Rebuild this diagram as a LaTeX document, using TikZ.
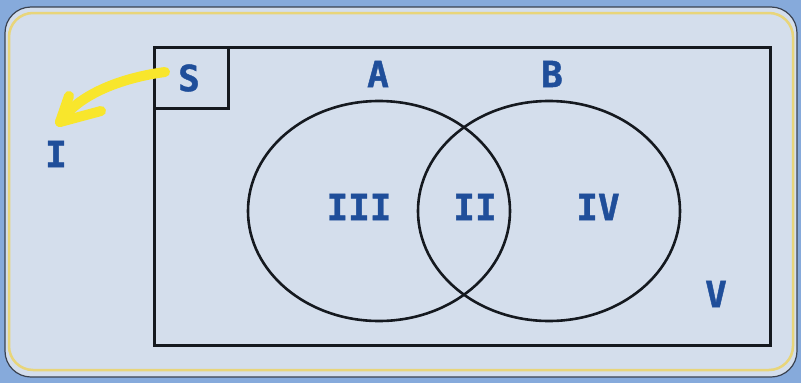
\documentclass[tikz,border=0pt]{standalone}
\usepackage{fontspec}
\newfontfamily\lblfont{DejaVu Sans Mono}[BoldFeatures={FakeBold=1.2}]
\definecolor{bgblue}{HTML}{86AADB}
\definecolor{cardfill}{HTML}{D4DEEC}
\definecolor{cardedge}{HTML}{3A4250}
\definecolor{paperyellow}{HTML}{E8D57A}
\definecolor{labblue}{HTML}{1F4E9A}
\definecolor{arrowyellow}{HTML}{F8E62C}
\definecolor{inkline}{HTML}{15191F}
\begin{document}
\begin{tikzpicture}[x=1pt,y=-1pt,
  lab/.style={text=labblue, font=\lblfont\bfseries\fontsize{36}{36}\selectfont, inner sep=0pt},
  ink/.style={draw=inkline, line width=3pt},
  venn/.style={draw=inkline, line width=2.6pt},
  hl/.style={draw=arrowyellow, line width=10pt, line cap=round, line join=round}]
\useasboundingbox (0,0) rectangle (801,383);
\fill[bgblue] (0,0) rectangle (801,383);
\filldraw[fill=cardfill, draw=cardedge, line width=1.2pt, rounded corners=26pt] (5,7) rectangle (797,377);
\draw[paperyellow, line width=2.5pt, rounded corners=24pt] (9,13) rectangle (793,370);
% universe and S box
\draw[ink] (154,47) rectangle (770,345);
\draw[ink] (154,108) -- (228,108) -- (228,47);
% circles
\draw[venn] (379,211) ellipse [x radius=131, y radius=110];
\draw[venn] (549,211) ellipse [x radius=131, y radius=110];
% labels
\node[lab] (S) at (189,78) {S};
\node[lab] (A) at (378,74) {A};
\node[lab] (B) at (552,74) {B};
\node[lab] (I) at (56,154) {I};
\node[lab] (III) at (359,207) {III};
\node[lab] (II) at (475,207) {II};
\node[lab] (IV) at (598,207) {IV};
\node[lab] (V) at (716,294) {V};
% yellow arrow from S to I
\coordinate (arrStart) at (165,72);
\coordinate (arrTip) at (60,122);
\coordinate (wingA) at (69,96);
\coordinate (wingB) at (101,111);
\draw[hl] (arrStart) .. controls (120,78) and (78,95) .. (arrTip);
\draw[hl] (wingA) -- (arrTip) -- (wingB);
\end{tikzpicture}
\end{document}
